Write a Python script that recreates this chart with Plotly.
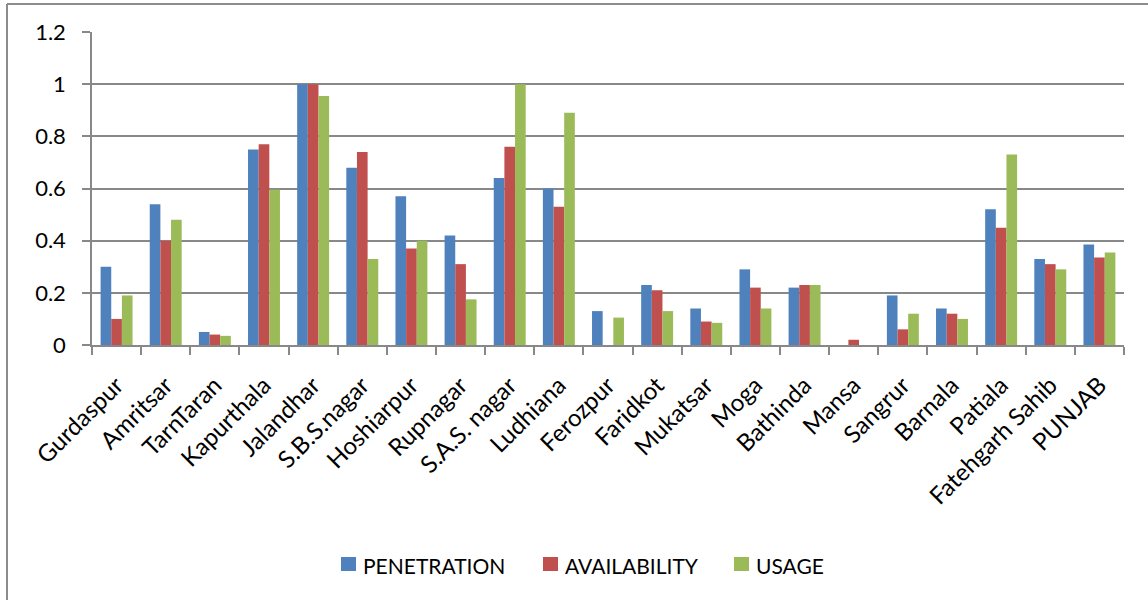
import plotly.graph_objects as go

districts = ["Gurdaspur", "Amritsar", "TarnTaran", "Kapurthala", "Jalandhar",
             "S.B.S.nagar", "Hoshiarpur", "Rupnagar", "S.A.S. nagar", "Ludhiana",
             "Ferozpur", "Faridkot", "Mukatsar", "Moga", "Bathinda", "Mansa",
             "Sangrur", "Barnala", "Patiala", "Fatehgarh Sahib", "PUNJAB"]

penetration = [0.30, 0.54, 0.05, 0.75, 1.00, 0.68, 0.57, 0.42, 0.64, 0.60,
               0.13, 0.23, 0.14, 0.29, 0.22, 0.00, 0.19, 0.14, 0.52, 0.33, 0.385]
availability = [0.10, 0.40, 0.04, 0.77, 1.00, 0.74, 0.37, 0.31, 0.76, 0.53,
                0.00, 0.21, 0.09, 0.22, 0.23, 0.02, 0.06, 0.12, 0.45, 0.31, 0.335]
usage = [0.19, 0.48, 0.035, 0.595, 0.955, 0.33, 0.40, 0.175, 1.00, 0.89,
         0.105, 0.13, 0.085, 0.14, 0.23, 0.00, 0.12, 0.10, 0.73, 0.29, 0.355]

y_ticks = [0, 0.2, 0.4, 0.6, 0.8, 1, 1.2]
y_tick_text = ["0", "0.2", "0.4", "0.6", "0.8", "1", "1.2"]

series_names = ["PENETRATION", "AVAILABILITY", "USAGE"]
series_values = [penetration, availability, usage]
series_colors = ["#4F81BD", "#C0504D", "#9BBB59"]

FONT = "Lato, 'Open Sans', sans-serif"
GRID = "#888888"

fig = go.Figure()
for name, vals, color in zip(series_names, series_values, series_colors):
    fig.add_trace(go.Bar(
        x=districts, y=vals, name=name, showlegend=False,
        marker=dict(color=color, line=dict(width=0)),
    ))

# plot area geometry (pixels); used for the chart border and the legend row
L, R, T, B = 92, 24, 32, 255
W, H = 1148, 600
pw, ph = W - L - R, H - T - B

def px_x(p):
    return (p - L) / pw

def px_y(p):
    return (H - B - p) / ph

shapes = [
    dict(type="line", xref="paper", yref="paper",
         x0=px_x(7), x1=px_x(W + 5), y0=px_y(4), y1=px_y(4),
         line=dict(color="#8c8c8c", width=2)),
    dict(type="line", xref="paper", yref="paper",
         x0=px_x(7), x1=px_x(7), y0=px_y(4), y1=px_y(H + 5),
         line=dict(color="#8c8c8c", width=2)),
]
annotations = []

# legend row beneath the chart: colour swatch followed by the series name
legend_swatch_x = [341, 543, 734]
legend_y = 564
for name, color, sx in zip(series_names, series_colors, legend_swatch_x):
    shapes.append(dict(type="rect", xref="paper", yref="paper",
                       x0=px_x(sx), x1=px_x(sx + 15),
                       y0=px_y(legend_y - 7), y1=px_y(legend_y + 7),
                       fillcolor=color, line=dict(width=0)))
    annotations.append(dict(text=name, xref="paper", yref="paper",
                            x=px_x(sx + 20), y=px_y(legend_y + 1),
                            xanchor="left", yanchor="middle", showarrow=False,
                            font=dict(family=FONT, size=21, color="#000000")))

fig.update_layout(
    width=W, height=H,
    margin=dict(l=L, r=R, t=T, b=B),
    paper_bgcolor="white", plot_bgcolor="white",
    barmode="group", bargap=0.35, bargroupgap=0,
    font=dict(family=FONT, size=20, color="#000000"),
    showlegend=False,
    xaxis=dict(
        showline=True, linecolor=GRID, linewidth=1.5,
        ticks="outside", tickson="boundaries", ticklen=8, tickcolor=GRID, tickwidth=1.5,
        tickangle=-45, tickfont=dict(family=FONT, size=24, color="#000000"),
        ticklabelstandoff=15,
        showgrid=False, zeroline=False,
    ),
    yaxis=dict(
        range=[0, 1.2], tickvals=y_ticks, ticktext=y_tick_text,
        showline=True, linecolor=GRID, linewidth=1.5,
        ticks="outside", ticklen=8, tickcolor=GRID, tickwidth=1.5,
        ticklabelstandoff=12,
        showgrid=True, gridcolor=GRID, gridwidth=1.5,
        zeroline=False, tickfont=dict(family=FONT, size=22, color="#000000"),
    ),
    shapes=shapes,
    annotations=annotations,
)

fig.write_html("out.html")
